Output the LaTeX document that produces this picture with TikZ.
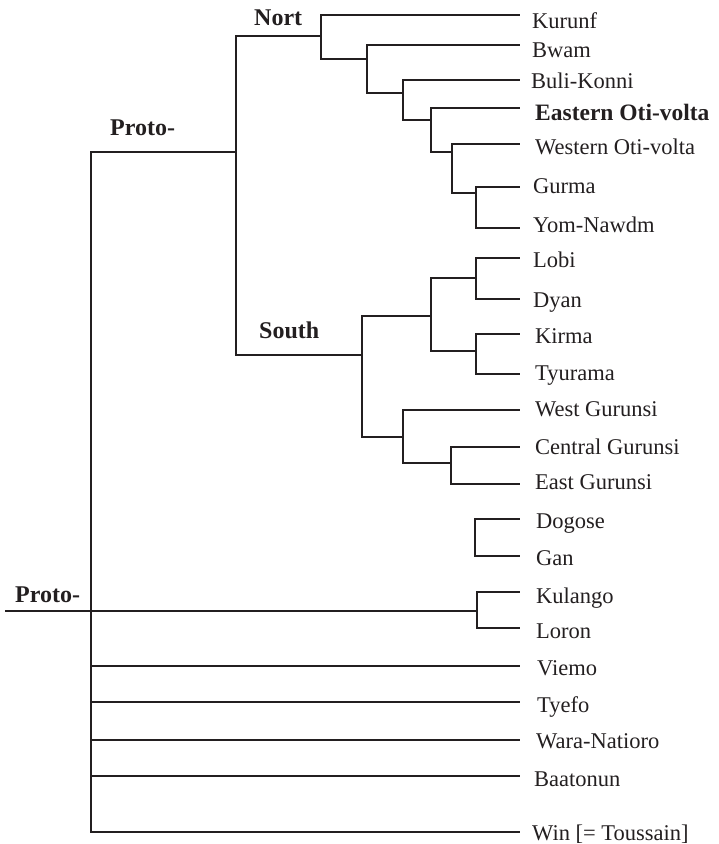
\documentclass[tikz,border=0pt]{standalone}
\usepackage{fontspec}
\setmainfont{Liberation Serif}
\definecolor{ink}{HTML}{231F20}
\begin{document}
\begin{tikzpicture}[x=1pt,y=-1pt,
  br/.style={line width=2.5pt, draw=ink, line join=miter},
  mid/.style={line width=1.9pt, draw=ink, line join=miter},
  thinbr/.style={line width=1.3pt, draw=ink, line join=miter},
  leaf/.style={anchor=base west, inner sep=0pt, text=ink, font=\fontsize{22.5}{27}\selectfont},
  grp/.style={anchor=base west, inner sep=0pt, text=ink, font=\fontsize{24}{28}\selectfont\bfseries}]
\useasboundingbox (0,0) rectangle (719,844);

% junction coordinates
\coordinate (start) at (5,611);
\coordinate (r) at (91,611);
\coordinate (p) at (236,152);
\coordinate (n1) at (321,36);
\coordinate (n2) at (367,59);
\coordinate (n3) at (403,93);
\coordinate (n4) at (431,120);
\coordinate (n5) at (452,152);
\coordinate (n6) at (476,193);
\coordinate (s) at (362,355);
\coordinate (s1) at (431,316);
\coordinate (s11) at (476,278);
\coordinate (s12) at (476,351);
\coordinate (s2) at (403,437);
\coordinate (s21) at (451,463);
\coordinate (d) at (475,537);
\coordinate (k) at (477,611);

% leaf line ends
\coordinate (kurunf-e) at (520,15);
\coordinate (bwam-e) at (520,45);
\coordinate (buli-e) at (520,80);
\coordinate (eastoti-e) at (520,108);
\coordinate (westoti-e) at (520,144);
\coordinate (gurma-e) at (520,187);
\coordinate (yom-e) at (520,228);
\coordinate (lobi-e) at (520,258);
\coordinate (dyan-e) at (520,299);
\coordinate (kirma-e) at (520,334);
\coordinate (tyurama-e) at (520,374);
\coordinate (westg-e) at (520,410);
\coordinate (centg-e) at (520,447);
\coordinate (eastg-e) at (520,484);
\coordinate (dogose-e) at (520,519);
\coordinate (gan-e) at (520,556);
\coordinate (kulango-e) at (520,592);
\coordinate (loron-e) at (520,628);
\coordinate (viemo-e) at (520,666);
\coordinate (tyefo-e) at (520,702);
\coordinate (wara-e) at (520,740);
\coordinate (baatonun-e) at (520,776);
\coordinate (win-e) at (520,832);

% leaf labels
\node[leaf] (kurunf) at (532,28) {Kurunf};
\node[leaf] (bwam) at (532,57) {Bwam};
\node[leaf] (buli) at (531,88) {Buli-Konni};
\node[leaf,font=\fontsize{23.5}{28}\selectfont\bfseries] (eastoti) at (535,120) {Eastern Oti-volta};
\node[leaf] (westoti) at (535,154) {Western Oti-volta};
\node[leaf] (gurma) at (533,193) {Gurma};
\node[leaf] (yom) at (533,232) {Yom-Nawdm};
\node[leaf] (lobi) at (533,267) {Lobi};
\node[leaf] (dyan) at (533,307) {Dyan};
\node[leaf] (kirma) at (535,343) {Kirma};
\node[leaf] (tyurama) at (535,380) {Tyurama};
\node[leaf] (westg) at (535,416) {West Gurunsi};
\node[leaf] (centg) at (535,454) {Central Gurunsi};
\node[leaf] (eastg) at (535,489) {East Gurunsi};
\node[leaf] (dogose) at (536,528) {Dogose};
\node[leaf] (gan) at (536,565) {Gan};
\node[leaf] (kulango) at (536,603) {Kulango};
\node[leaf] (loron) at (536,638) {Loron};
\node[leaf] (viemo) at (537,675) {Viemo};
\node[leaf] (tyefo) at (537,712) {Tyefo};
\node[leaf] (wara) at (536,748) {Wara-Natioro};
\node[leaf] (baatonun) at (534,786) {Baatonun};
\node[leaf] (win) at (532,840) {Win [= Toussain]};

% group labels
\node[grp] (nortlab) at (254,25) {Nort};
\node[grp] (protolab1) at (110,135) {Proto-};
\node[grp] (southlab) at (259,338) {South};
\node[grp] (protolab0) at (15,602) {Proto-};

% root
\draw[br] (start) -- (k);
\draw[br] (r) |- (p);
\draw[br] (r) |- (viemo-e);
\draw[br] (r) |- (tyefo-e);
\draw[br] (r) |- (wara-e);
\draw[br] (r) |- (baatonun-e);
\draw[br] (r) |- (win-e);

% upper proto
\draw[br] (p) |- (n1);
\draw[br] (p) |- (s);

% Nort
\draw[br] (n1) |- (kurunf-e);
\draw[br] (n1) |- (n2);
\draw[br] (n2) |- (bwam-e);
\draw[br] (n2) |- (n3);
\draw[br] (n3) |- (buli-e);
\draw[br] (n3) |- (n4);
\draw[br] (n4) |- (eastoti-e);
\draw[br] (n4) |- (n5);
\draw[br] (n5) |- (westoti-e);
\draw[br] (n5) |- (n6);
\draw[br] (n6) |- (gurma-e);
\draw[br] (n6) |- (yom-e);

% South
\draw[br] (s) |- (s1);
\draw[br] (s) |- (s2);
\draw[br] (s1) |- (s11);
\draw[br] (s1) |- (s12);
\draw[br] (s11) |- (lobi-e);
\draw[br] (s11) |- (dyan-e);
\draw[br] (s12) |- (kirma-e);
\draw[br] (s12) |- (tyurama-e);
\draw[br] (s2) |- (westg-e);
\draw[mid] (s2) |- (s21);
\draw[thinbr] (s21) |- (centg-e);
\draw[thinbr] (s21) |- (eastg-e);

% Dogose / Gan
\draw[br] (d) |- (dogose-e);
\draw[br] (d) |- (gan-e);

% Kulango / Loron
\draw[mid] (k) |- (kulango-e);
\draw[mid] (k) |- (loron-e);
\end{tikzpicture}
\end{document}
